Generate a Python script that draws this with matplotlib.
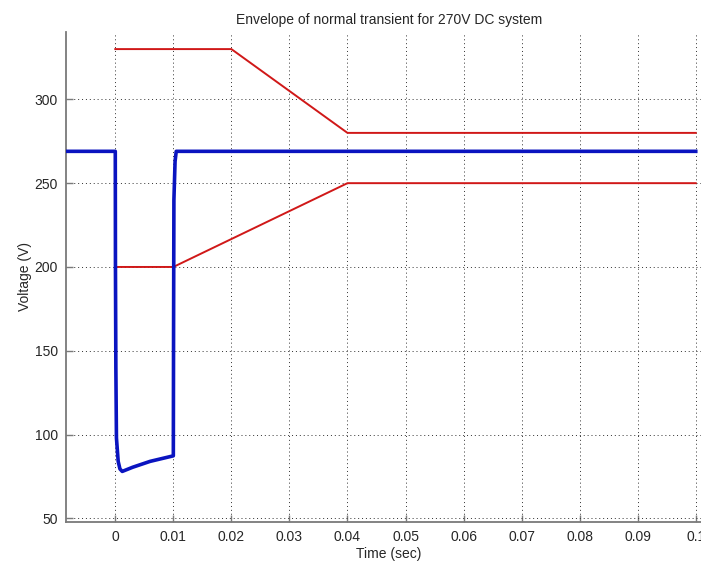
import matplotlib
matplotlib.use("Agg")
import matplotlib.pyplot as plt

plt.rcParams["font.family"] = ["Liberation Sans", "DejaVu Sans"]

# measured trace (blue)
t_meas = [-0.0085, 0.0, 0.00003, 0.0001, 0.0002, 0.0005, 0.0008, 0.0012,
          0.0030, 0.0060, 0.0100, 0.01004, 0.0101, 0.0103, 0.0105, 0.1]
v_meas = [269, 269, 200, 140, 98, 84, 79.5, 78,
          80.5, 84, 87.3, 160, 240, 263, 269, 269]

# upper / lower transient limits (red)
t_upper = [0.0, 0.02, 0.04, 0.1]
v_upper = [330, 330, 280, 280]
t_lower = [0.0, 0.01, 0.04, 0.1]
v_lower = [200, 200, 250, 250]

xticks = [0, 0.01, 0.02, 0.03, 0.04, 0.05, 0.06, 0.07, 0.08, 0.09, 0.1]
xticklabels = ["0", "0.01", "0.02", "0.03", "0.04", "0.05", "0.06",
               "0.07", "0.08", "0.09", "0.1"]
yticks = [50, 100, 150, 200, 250, 300]

INK = "#262626"
SPINE = "#7a7a7a"

fig = plt.figure(figsize=(7.01, 5.62), dpi=100)
ax = fig.add_axes([66 / 701, 40.3 / 562, 646 / 701, 489.7 / 562])

ax.plot(t_upper, v_upper, color="#d01818", lw=1.4, zorder=3)
ax.plot(t_lower, v_lower, color="#d01818", lw=1.4, zorder=3)
ax.plot(t_meas, v_meas, color="#0a14c0", lw=2.6, zorder=4)

ax.set_xlim(-0.00849, 0.1028)
ax.set_ylim(48, 340.2)
ax.set_xticks(xticks)
ax.set_xticklabels(xticklabels)
ax.set_yticks(yticks)

ax.grid(True, linestyle=(0, (1, 3)), color="#303030", lw=0.7)
ax.tick_params(direction="in", length=5, width=1, colors=SPINE,
               labelcolor=INK, labelsize=10, pad=6)
for side in ("top", "right"):
    ax.spines[side].set_visible(False)
for side in ("left", "bottom"):
    ax.spines[side].set_color(SPINE)
    ax.spines[side].set_linewidth(1.3)

ax.set_title("Envelope of normal transient for 270V DC system",
             fontsize=10, color=INK, pad=6)
ax.set_xlabel("Time (sec)", fontsize=10, color=INK, labelpad=2)
ax.set_ylabel("Voltage (V)", fontsize=10, color=INK, labelpad=2)

fig.savefig("out.png", dpi=100, facecolor="white")
